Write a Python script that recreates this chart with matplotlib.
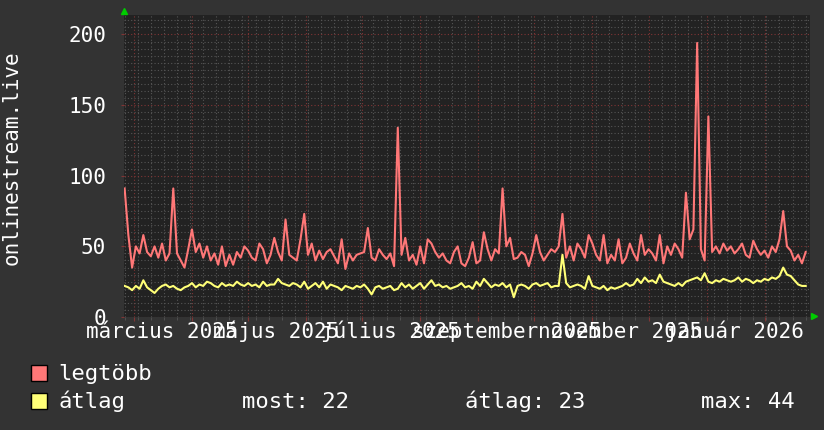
import numpy as np
import pandas as pd
import matplotlib
matplotlib.use("Agg")
import matplotlib.pyplot as plt
import matplotlib.dates as mdates
from matplotlib.patches import Rectangle

# data, one point every 2 days from 2025-02-24
legtobb = [
    91, 58, 35, 50, 45, 58, 46, 43, 50, 42,
    52, 40, 45, 91, 45, 40, 35, 48, 62, 46,
    52, 42, 50, 40, 45, 37, 50, 36, 44, 37,
    46, 42, 50, 47, 42, 40, 52, 48, 38, 44,
    56, 46, 40, 69, 44, 42, 40, 55, 73, 44,
    52, 40, 47, 41, 46, 48, 43, 38, 55, 34,
    45,
    40, 44, 45, 46, 63, 42, 40, 48, 44,
    41, 45, 36, 134, 44, 56, 40, 44, 37, 50,
    38, 55, 52, 46, 42, 45, 40, 38, 46, 50,
    38, 36, 42, 53, 38, 40, 60, 48, 40, 48,
    45, 91, 50, 56, 41, 42, 46, 44, 36, 45,
    58, 46, 40, 44, 48, 46, 50, 73, 42, 50,
    40, 52,
    48, 42, 58, 52, 44, 40, 58, 38,
    44, 40, 55, 38, 42, 52, 45, 40, 58, 44,
    48, 45, 40, 58, 38, 50, 44, 52, 48, 42,
    88, 55, 62, 194, 48, 40, 142, 46, 50, 45,
    52, 47, 50, 45, 48, 52, 44, 42, 54, 48,
    44, 47, 42, 50, 46, 55, 75, 50, 47, 40,
    44, 38, 46,
]
atlag = [
    22, 21, 19, 22, 20, 26, 21, 19, 17, 20,
    22, 23, 21, 22, 20, 19, 21, 22, 24, 21,
    23, 22, 25, 24, 22, 21, 24, 22, 23, 22,
    25, 23, 22, 24, 22, 23, 21, 25, 22, 23,
    23, 27, 24, 23, 22, 24, 23, 21, 25, 20,
    22, 24, 21, 25, 20, 23, 22, 21, 19, 22,
    21,
    20, 22, 21, 23, 20, 16, 21, 22, 20,
    21, 22, 19, 20, 24, 21, 23, 20, 22, 24,
    20, 23, 26, 22, 23, 21, 22, 20, 21, 22,
    24, 21, 22, 20, 25, 22, 27, 24, 21, 23,
    22, 24, 21, 23, 14, 22, 23, 22, 20, 23,
    24, 22, 23, 24, 21, 22, 22, 44, 24, 21,
    22, 23,
    22, 20, 29, 22, 21, 20, 22, 19,
    21, 20, 21, 22, 24, 22, 23, 27, 24, 28,
    25, 26, 24, 30, 25, 24, 23, 22, 24, 22,
    25, 26, 27, 28, 26, 31, 25, 24, 26, 25,
    27, 26, 25, 26, 28, 25, 27, 26, 24, 26,
    25, 27, 26, 28, 27, 29, 35, 30, 29, 26,
    23, 22, 22,
]
month_labels = ["március 2025", "május 2025", "július 2025",
                "szeptember 2025", "november 2025", "január 2026"]
label_months = ["2025-03-01", "2025-05-01", "2025-07-01",
                "2025-09-01", "2025-11-01", "2026-01-01"]
legend_names = ["legtöbb", "átlag"]
stats = ["most: 22", "átlag: 23", "max: 44"]

dates = pd.date_range("2025-02-24", periods=len(legtobb), freq="2D")

BG = "#333333"
CANVAS = "#222222"
RED = "#ff7777"
YEL = "#ffff77"
FONT = "DejaVu Sans Mono"
W, H = 824, 430

fig = plt.figure(figsize=(W / 100, H / 100), dpi=100, facecolor=BG)
ax = fig.add_axes([124 / W, 1 - 317 / H, 686 / W, (317 - 14.7) / H])
ax.set_facecolor(CANVAS)

ax.plot(dates, legtobb, color=RED, lw=1.5, zorder=3)
ax.plot(dates, atlag, color=YEL, lw=1.5, zorder=3)

ax.set_xlim(pd.Timestamp("2025-02-23 16:00"), pd.Timestamp("2026-02-25 07:30"))
ax.set_ylim(0, 214)

ax.set_yticks(np.arange(0, 201, 50))
ax.set_yticks(np.arange(0, 214, 5), minor=True)
ax.xaxis.set_major_locator(mdates.MonthLocator())
ax.xaxis.set_minor_locator(mdates.WeekdayLocator(byweekday=mdates.MO))
ax.xaxis.set_major_formatter(plt.NullFormatter())

ax.grid(which="minor", color="#555555", ls=(0, (1, 2)), lw=0.8, zorder=1)
ax.grid(which="major", color="#803535", ls=(0, (1, 2)), lw=0.8, zorder=2)
ax.set_axisbelow(True)

for s in ax.spines.values():
    s.set_visible(False)

ax.tick_params(axis="x", which="major", length=3, color="#803535", direction="out")
ax.tick_params(axis="x", which="minor", length=2, color="#555555", direction="out")
ax.tick_params(axis="y", which="major", length=2, color="#803535", pad=11,
               labelsize=15, labelcolor="white")
ax.tick_params(axis="y", which="minor", length=0)
for lab in ax.get_yticklabels():
    lab.set_family(FONT)

# month labels, centred half a month after the tick
tr = ax.get_xaxis_transform()
for m, txt in zip(label_months, month_labels):
    x = pd.Timestamp(m) + pd.Timedelta(days=15)
    ax.text(x, -21 / 302.3, txt, transform=tr, ha="center", va="baseline",
            fontsize=15, family=FONT, color="white", clip_on=False)

# arrows
ax.plot([0], [1 + 4 / 302.3], marker="^", color="#00cc00", ms=5,
        transform=ax.transAxes, clip_on=False)
ax.plot([1 + 4 / 686], [0.003], marker=">", color="#00cc00", ms=5,
        transform=ax.transAxes, clip_on=False)

fig.text(12 / W, 1 - 158 / H, "onlinestream.live", rotation=90, ha="center",
         va="center", fontsize=15, family=FONT, color="white")

# legend
for (ytop, col, name, base) in [(365, RED, legend_names[0], 380),
                                (393, YEL, legend_names[1], 408)]:
    fig.patches.append(Rectangle((31 / W, 1 - (ytop + 16) / H), 16 / W, 16 / H,
                                 facecolor=col, edgecolor="black", lw=1,
                                 transform=fig.transFigure))
    fig.text(58 / W, 1 - base / H, name, ha="left", va="baseline",
             fontsize=16, family=FONT, color="white")

for x, txt in zip([242, 465, 701], stats):
    fig.text(x / W, 1 - 408 / H, txt, ha="left", va="baseline",
             fontsize=16, family=FONT, color="white")

fig.savefig("out.png", dpi=100, facecolor=BG)
